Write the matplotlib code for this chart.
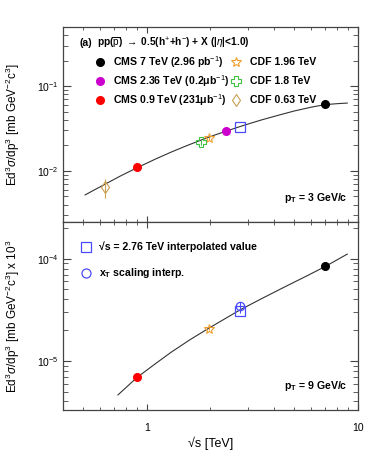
import numpy as np
import matplotlib
matplotlib.use('Agg')
import matplotlib.pyplot as plt
from matplotlib.ticker import LogLocator, NullFormatter

plt.rcParams['font.family'] = ['Liberation Sans', 'DejaVu Sans']
plt.rcParams['mathtext.fontset'] = 'custom'
plt.rcParams['mathtext.rm'] = 'Liberation Sans'
plt.rcParams['mathtext.it'] = 'Liberation Sans:italic'
plt.rcParams['mathtext.bf'] = 'Liberation Sans:bold'

# ---- data ----
# pT = 3 GeV/c
cms_x_3 = [7.0, 2.36, 0.9]
cms_y_3 = [0.0614, 0.0293, 0.0111]
cms_colors = ['black', '#cc00cc', 'red']
cdf196_3 = (1.96, 0.0242, 0.0010)
cdf18_3 = (1.81, 0.0217, 0.0015)
cdf063_3 = (0.632, 0.00643, 0.0016)
interp_3 = (2.76, 0.0332)
fit_x_3 = [0.51, 0.63, 0.75, 0.9, 1.1, 1.3, 1.55, 1.8, 2.1, 2.4, 2.9, 3.5, 4.2, 5.0, 6.0, 7.0, 8.0, 8.9]
fit_y_3 = [0.0052, 0.0069, 0.0087, 0.0109, 0.0138, 0.0166, 0.0199, 0.0230, 0.0265, 0.0297,
           0.0347, 0.0400, 0.0454, 0.0510, 0.0565, 0.0606, 0.0622, 0.0632]

# pT = 9 GeV/c
cms_x_9 = [7.0, 0.9]
cms_y_9 = [8.4e-5, 6.9e-6]
cms_colors_9 = ['black', 'red']
cdf196_9 = (1.96, 2.07e-5, 0.06e-5)
interp_9 = (2.76, 3.1e-5, 0.15e-5)
xt_9 = (2.76, 3.41e-5, 0.32e-5)
fit_x_9 = [0.73, 0.9, 1.1, 1.3, 1.6, 1.96, 2.76, 3.5, 4.5, 5.7, 7.0, 8.9]
fit_y_9 = [4.64e-6, 6.9e-6, 9.4e-6, 1.21e-5, 1.61e-5, 2.08e-5, 3.15e-5, 4.07e-5, 5.3e-5,
           6.76e-5, 8.4e-5, 1.11e-4]

legend_cms = ['CMS 7 TeV (2.96 pb$^{-1}$)', 'CMS 2.36 TeV (0.2\u03bcb$^{-1}$)',
              'CMS 0.9 TeV (231\u03bcb$^{-1}$)']
legend_cdf = ['CDF 1.96 TeV', 'CDF 1.8 TeV', 'CDF 0.63 TeV']

star_c = '#f0a030'
cross_c = '#40c040'
diam_c = '#c8a050'
blue_c = '#4a4aff'
fs = 7.6

fig = plt.figure(figsize=(3.74, 4.74), dpi=100)
ax1 = fig.add_axes([0.168, 0.532, 0.789, 0.411])
ax2 = fig.add_axes([0.168, 0.135, 0.789, 0.397], sharex=ax1)

for ax in (ax1, ax2):
    ax.set_xscale('log')
    ax.set_yscale('log')
    ax.tick_params(which='both', direction='in', top=True, right=True, labelsize=7.5, pad=3, color='#444444')
    ax.tick_params(which='major', length=6)
    ax.tick_params(which='minor', length=3.5)
    ax.tick_params(axis='x', which='major', length=4)
    ax.tick_params(axis='x', which='minor', length=2.5)
    for s in ax.spines.values():
        s.set_linewidth(0.9)
        s.set_color('#444444')
    ax.yaxis.set_minor_locator(LogLocator(base=10, subs=np.arange(2, 10)))
    ax.yaxis.set_minor_formatter(NullFormatter())
    ax.xaxis.set_minor_formatter(NullFormatter())

ax1.set_xlim(0.4, 10)
ax1.set_ylim(0.0025, 0.5)
ax2.set_ylim(3.3e-6, 2.3e-4)
ax1.tick_params(axis='x', labelbottom=False)

# top panel
ax1.plot(fit_x_3, fit_y_3, color='#333333', lw=0.8)
for x, y, c in zip(cms_x_3, cms_y_3, cms_colors):
    ax1.plot(x, y, 'o', color=c, ms=5.5)
ax1.errorbar(cdf196_3[0], cdf196_3[1], yerr=cdf196_3[2], fmt='*', mfc='none', mec=star_c,
             ecolor=star_c, ms=7, mew=0.8, elinewidth=0.8)
ax1.errorbar(cdf18_3[0], cdf18_3[1], yerr=cdf18_3[2], fmt='P', mfc='none', mec=cross_c,
             ecolor=cross_c, ms=6.5, mew=0.8, elinewidth=0.8)
ax1.errorbar(cdf063_3[0], cdf063_3[1], yerr=cdf063_3[2], fmt='d', mfc='none', mec=diam_c,
             ecolor=diam_c, ms=6, mew=0.8, elinewidth=0.8)
ax1.plot(interp_3[0], interp_3[1], 's', mfc='none', mec=blue_c, ms=6.5, mew=0.9)

tr = ax1.transAxes
ax1.text(0.058, 0.918, '(a)', transform=tr, fontsize=fs, fontweight='bold', va='center')
ax1.text(0.115, 0.918, r'pp($\overline{\mathrm{p}}$) $\rightarrow$ 0.5(h$^{+}$+h$^{-}$) + X (|$\eta$|<1.0)',
         transform=tr, fontsize=fs - 0.3, fontweight='bold', va='center')
rows = [0.82, 0.723, 0.626]
for yy, lab, c in zip(rows, legend_cms, cms_colors):
    ax1.plot(0.125, yy, 'o', color=c, ms=5.5, transform=tr, clip_on=False)
    ax1.text(0.17, yy, lab, transform=tr, fontsize=fs, fontweight='bold', va='center')
ax1.plot(0.586, rows[0], '*', mfc='none', mec=star_c, ms=7, mew=0.8, transform=tr)
ax1.plot(0.586, rows[1], 'P', mfc='none', mec=cross_c, ms=6.5, mew=0.8, transform=tr)
ax1.plot(0.586, rows[2], 'd', mfc='none', mec=diam_c, ms=6, mew=0.8, transform=tr)
for yy, lab in zip(rows, legend_cdf):
    ax1.text(0.634, yy, lab, transform=tr, fontsize=fs, fontweight='bold', va='center')
ax1.text(0.963, 0.123, r'p$_{\mathbf{T}}$ = 3 GeV/c', transform=tr, fontsize=fs,
         fontweight='bold', ha='right', va='center')

# bottom panel
ax2.plot(fit_x_9, fit_y_9, color='#333333', lw=0.8)
for x, y, c in zip(cms_x_9, cms_y_9, cms_colors_9):
    ax2.plot(x, y, 'o', color=c, ms=5.5)
ax2.errorbar(cdf196_9[0], cdf196_9[1], yerr=cdf196_9[2], fmt='*', mfc='none', mec=star_c,
             ecolor=star_c, ms=7, mew=0.8, elinewidth=0.8)
ax2.errorbar(xt_9[0], xt_9[1], yerr=xt_9[2], fmt='o', mfc='none', mec=blue_c,
             ecolor=blue_c, ms=6, mew=0.9, elinewidth=0.8)
ax2.errorbar(interp_9[0], interp_9[1], yerr=interp_9[2], fmt='s', mfc='none', mec=blue_c,
             ecolor=blue_c, ms=6.5, mew=0.9, elinewidth=0.8)

tr2 = ax2.transAxes
ax2.plot(0.078, 0.867, 's', mfc='none', mec=blue_c, ms=6.5, mew=0.9, transform=tr2)
ax2.plot(0.078, 0.729, 'o', mfc='none', mec=blue_c, ms=6.5, mew=0.9, transform=tr2)
ax2.text(0.122, 0.867, '\u221as = 2.76 TeV interpolated value', transform=tr2, fontsize=fs,
         fontweight='bold', va='center')
ax2.text(0.122, 0.729, r'x$_{\mathbf{T}}$ scaling interp.', transform=tr2, fontsize=fs,
         fontweight='bold', va='center')
ax2.text(0.963, 0.128, r'p$_{\mathbf{T}}$ = 9 GeV/c', transform=tr2, fontsize=fs,
         fontweight='bold', ha='right', va='center')

ax2.set_xticks([1, 10])
ax2.set_xticklabels(['1', '10'])
ax2.tick_params(axis='x', which='major', pad=9)
ax2.set_xlabel('\u221as [TeV]', fontsize=9, labelpad=3)

ax1.set_ylabel(r'Ed$^{3}\sigma$/dp$^{3}$ [mb GeV$^{-2}$c$^{3}$]', fontsize=8.5)
ax2.set_ylabel(r'Ed$^{3}\sigma$/dp$^{3}$ [mb GeV$^{-2}$c$^{3}$] x 10$^{3}$', fontsize=8.5)
ax1.yaxis.set_label_coords(-0.14, 0.5)
ax2.yaxis.set_label_coords(-0.14, 0.5)

fig.savefig('out.png', dpi=100)
